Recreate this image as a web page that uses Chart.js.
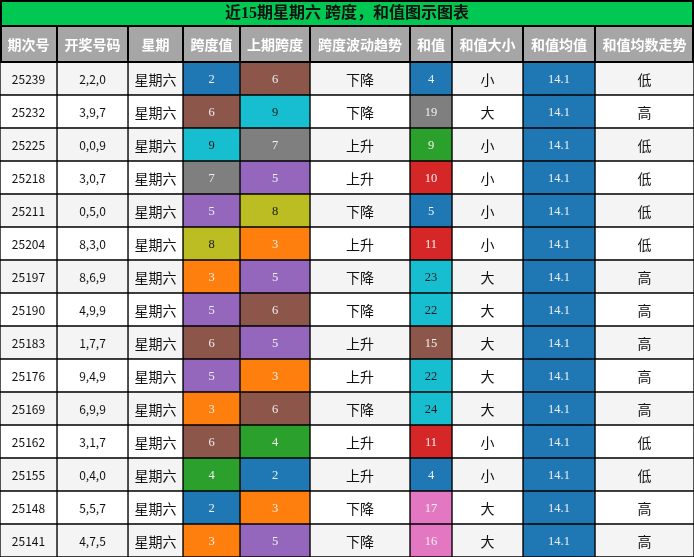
<!DOCTYPE html>
<html><head><meta charset="utf-8">
<script src="https://cdn.jsdelivr.net/npm/chart.js@4.4.1/dist/chart.umd.min.js"></script>
<style>html,body{margin:0;padding:0;background:#fff}canvas{display:block}</style>
</head><body>
<canvas id="c" width="694" height="557"></canvas>
<script>
// ---------- data ----------
const title = '近15期星期六 跨度，和值图示图表';
const headers = ['期次号','开奖号码','星期','跨度值','上期跨度','跨度波动趋势','和值','和值大小','和值均值','和值均数走势'];
const periods = ['25239','25232','25225','25218','25211','25204','25197','25190','25183','25176','25169','25162','25155','25148','25141'];
const draws = ['2,2,0','3,9,7','0,0,9','3,0,7','0,5,0','8,3,0','8,6,9','4,9,9','1,7,7','9,4,9','6,9,9','3,1,7','0,4,0','5,5,7','4,7,5'];
const weekdays = ['星期六','星期六','星期六','星期六','星期六','星期六','星期六','星期六','星期六','星期六','星期六','星期六','星期六','星期六','星期六'];
const spans = [2,6,9,7,5,8,3,5,6,5,3,6,4,2,3];
const prevSpans = [6,9,7,5,8,3,5,6,5,3,6,4,2,3,5];
const spanTrends = ['下降','下降','上升','上升','下降','上升','下降','下降','上升','上升','下降','上升','上升','下降','下降'];
const sums = [4,19,9,10,5,11,23,22,15,22,24,11,4,17,16];
const sumSizes = ['小','大','小','小','小','小','大','大','大','大','大','小','小','大','大'];
const sumAvgs = [14.1,14.1,14.1,14.1,14.1,14.1,14.1,14.1,14.1,14.1,14.1,14.1,14.1,14.1,14.1];
const avgTrends = ['低','高','低','低','低','低','高','高','高','高','高','低','低','高','高'];

// ---------- styling / layout ----------
const colEdges = [0,57,128,183,240,310,410,452,523,595,694];
const tab10 = ['#1f77b4','#ff7f0e','#2ca02c','#d62728','#9467bd','#8c564b','#e377c2','#7f7f7f','#bcbd22','#17becf'];
const darkText = new Set(['#bcbd22','#17becf']);
function cmap(v, arr){
  const lo = Math.min(...arr), hi = Math.max(...arr);
  const t = hi > lo ? (v - lo) / (hi - lo) : 0;
  return tab10[Math.min(9, Math.floor(t * 10))];
}
const CJK = '"Noto Sans CJK SC", "Noto Sans", sans-serif';
const SERIF = '"Liberation Serif", "DejaVu Serif", serif';
const columns = [
  {vals: periods, font: '12px ' + CJK},
  {vals: draws, font: '12px ' + CJK},
  {vals: weekdays, font: '14px ' + CJK},
  {vals: spans, color: true, font: '12.5px ' + SERIF},
  {vals: prevSpans, color: true, font: '12.5px ' + SERIF},
  {vals: spanTrends, font: '14px ' + CJK},
  {vals: sums, color: true, font: '12.5px ' + SERIF},
  {vals: sumSizes, font: '14px ' + CJK},
  {vals: sumAvgs, color: true, font: '12.5px ' + SERIF},
  {vals: avgTrends, font: '14px ' + CJK},
];
function rowBg(ri){ return ri % 2 === 0 ? '#f4f4f4' : '#ffffff'; }
function cellBg(ci, ri){
  const col = columns[ci];
  return col.color ? cmap(col.vals[ri], col.vals) : rowBg(ri);
}

const datasets = columns.map((col, ci) => ({
  data: periods.map((p, ri) => ({x: [colEdges[ci], colEdges[ci+1]], y: p})),
  backgroundColor: ctx => cellBg(ci, ctx.dataIndex),
  borderColor: '#000',
  borderWidth: 1,
  borderSkipped: false,
  grouped: false,
  barPercentage: 1,
  categoryPercentage: 1
}));

const tablePlugin = {
  id: 'tablePlugin',
  afterDraw(chart){
    const ctx = chart.ctx;
    const xs = chart.scales.x;
    const top = chart.chartArea.top;
    const W = chart.width;
    ctx.save();
    // title bar
    ctx.fillStyle = '#00c853';
    ctx.fillRect(0, 0, W, 26);
    ctx.strokeStyle = '#000';
    ctx.lineWidth = 2;
    ctx.strokeRect(1, 1, W - 2, 25);
    ctx.fillStyle = '#111';
    ctx.font = 'bold 16px ' + SERIF.replace('serif', '') + CJK;
    ctx.textAlign = 'center';
    ctx.textBaseline = 'middle';
    ctx.fillText(title, W / 2, 14);
    // header row
    ctx.fillStyle = '#a6a6a6';
    ctx.fillRect(0, 26, W, top - 26);
    ctx.beginPath();
    colEdges.forEach(e => {
      let px = xs.getPixelForValue(e);
      px = Math.min(Math.max(px, 1), W - 1);
      ctx.moveTo(px, 26); ctx.lineTo(px, top);
    });
    ctx.moveTo(0, 26); ctx.lineTo(W, 26);
    ctx.moveTo(0, top); ctx.lineTo(W, top);
    ctx.stroke();
    ctx.fillStyle = '#ffffff';
    ctx.font = 'bold 14px ' + CJK;
    headers.forEach((h, ci) => {
      const cx = (xs.getPixelForValue(colEdges[ci]) + xs.getPixelForValue(colEdges[ci+1])) / 2;
      ctx.fillText(h, cx, (26 + top) / 2 + 1);
    });
    // cell texts
    columns.forEach((col, ci) => {
      const meta = chart.getDatasetMeta(ci);
      meta.data.forEach((el, ri) => {
        const cx = (el.x + el.base) / 2;
        const v = col.vals[ri];
        let color = '#111';
        if (col.color) {
          const bg = cmap(v, col.vals);
          color = darkText.has(bg) ? '#1a1a1a' : '#f0f0f0';
        }
        ctx.fillStyle = color;
        ctx.font = col.font;
        ctx.fillText(String(v), cx, el.y + 1);
      });
    });
    ctx.restore();
  }
};

new Chart(document.getElementById('c'), {
  type: 'bar',
  data: {labels: periods, datasets},
  options: {
    indexAxis: 'y',
    responsive: false,
    animation: false,
    layout: {padding: {top: 62, left: 0, right: 0, bottom: 0}},
    scales: {
      x: {type: 'linear', min: 0, max: 694, display: false},
      y: {type: 'category', display: false, offset: true}
    },
    plugins: {legend: {display: false}, tooltip: {enabled: false}, title: {display: false}}
  },
  plugins: [tablePlugin]
});
</script>
</body></html>
